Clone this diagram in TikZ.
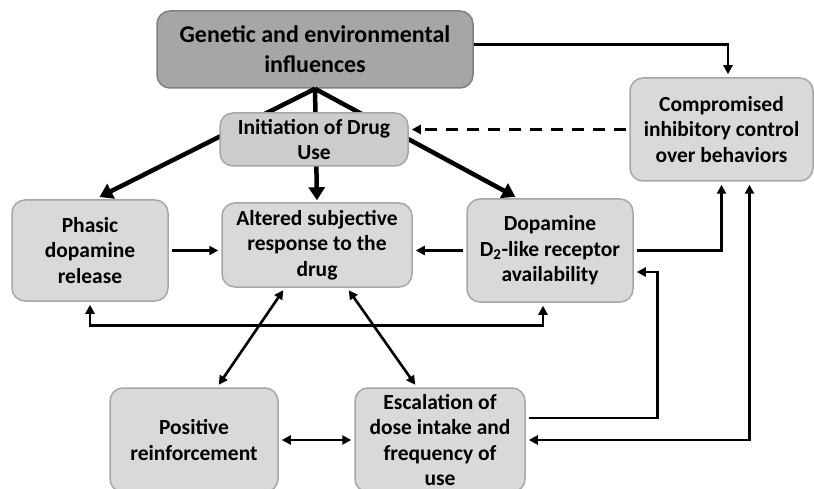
\documentclass[tikz,border=0pt]{standalone}
\usepackage{fontspec}
\setmainfont{Carlito}
\usetikzlibrary{arrows.meta,positioning}

\begin{document}
\begin{tikzpicture}[x=1pt,y=-1pt, box/.style={draw=black!35,line width=1.5pt,fill=black!15,rounded corners=13pt,align=center,inner sep=0pt,font=\bfseries\fontsize{21.5}{25.5}\selectfont}, link/.style={line width=2.6pt,shorten >=3pt,shorten <=3pt}, heavy/.style={line width=4.5pt,-{Triangle[length=13pt,width=16pt]}}, >={Triangle[length=9pt,width=9pt]}]
\useasboundingbox (0,0) rectangle (814,489);
\clip (0,0) rectangle (814,489);
\node[box,fill=black!35,draw=black!50,minimum width=316,minimum height=77,font=\bfseries\fontsize{24}{30}\selectfont] (genes) at (315,49.5) {Genetic and environmental\\influences};
\node[box,minimum width=156,minimum height=101] (phasic) at (90,250.5) {Phasic\\dopamine\\release};
\node[box,minimum width=190,minimum height=84] (altered) at (317,245) {Altered subjective\\response to the\\drug};
\node[box,minimum width=166,minimum height=103] (dopa) at (550,250.5) {Dopamine\\D\textsubscript{2}-like receptor\\availability};
\node[box,minimum width=183,minimum height=103] (control) at (721.5,129.5) {Compromised\\inhibitory control\\over behaviors};
\node[box,minimum width=168,minimum height=104] (reinf) at (194,440) {Positive\\reinforcement};
\node[box,minimum width=170,minimum height=104] (escal) at (440,440) {Escalation of\\dose intake and\\frequency of\\use};
% heavy arrows run behind the initiation box
\draw[heavy,shorten >=5pt] (genes.south) -- ([xshift=5pt]phasic.north);
\draw[heavy,shorten >=2pt] (genes.south) -- (altered.north);
\draw[heavy,shorten >=3pt] (genes.south) -- ([xshift=-32pt]dopa.north);
\node[box,fill=black!20,minimum width=188,minimum height=53] (init) at (314,139.5) {Initiation of Drug\\Use};
\draw[link,->,shorten <=0pt] ([yshift=5pt]genes.east) -| ([xshift=6.5pt]control.north);
\draw[link,->,dash pattern=on 12pt off 9pt] (control.west) -- (control.west -| init.east);
\draw[link,->] (phasic.east) -- (phasic.east -| altered.west);
\draw[link,->] (dopa.west) -- (dopa.west -| altered.east);
\draw[link,<->] (phasic.south) -- ++(0,24) -| ([xshift=-7pt]dopa.south);
\draw[link,<->] ([xshift=-32pt]altered.south) -- ([xshift=23pt]reinf.north);
\draw[link,<->] ([xshift=30pt]altered.south) -- ([xshift=-23pt]escal.north);
\draw[link,<->] (reinf.east) -- (escal.west);
\draw[link,->] (dopa.east) -| (control.south);
\draw[link,->] ([yshift=22pt]escal.east) -- ++(132,0) |- ([yshift=-21.5pt]dopa.east);
\draw[link,<->] ([xshift=28pt]control.south) |- (escal.east);
\end{tikzpicture}
\end{document}
